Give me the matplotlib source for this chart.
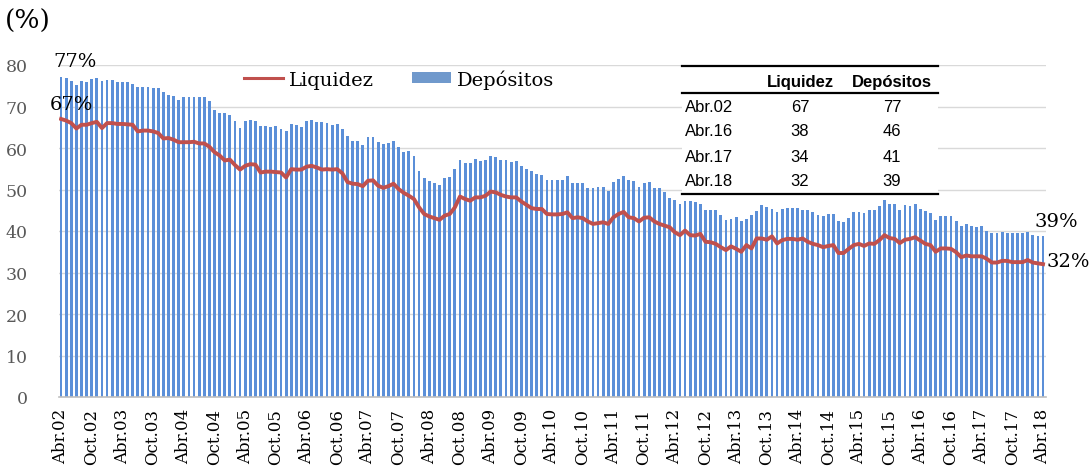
import matplotlib
matplotlib.use("Agg")
import matplotlib.pyplot as plt
from matplotlib.lines import Line2D
from matplotlib.patches import Patch, Rectangle

# monthly series, Abr.02 .. Abr.18
depositos = [
    77.1, 76.8, 76.2, 75.2, 76.1, 76.0, 76.6, 76.8, 76.2, 76.4, 76.3, 75.8, 75.8, 75.8, 75.4, 74.6,
    74.8, 74.8, 74.4, 74.4, 73.6, 72.8, 72.6, 71.6, 72.2, 72.2, 72.2, 72.2, 72.4, 71.4,
    69.2, 68.4, 68.4, 67.9, 66.6, 64.8, 66.4, 66.8, 66.6, 65.4, 65.2, 65.1, 65.2, 64.6, 64.1, 65.8,
    65.6, 65.1, 66.6, 66.7, 66.2, 66.2, 66.0, 65.6, 65.8,
    64.6, 63.0, 61.6, 61.7, 60.8, 62.6, 62.6, 61.4, 61.0, 61.1, 61.6, 60.2, 59.0, 59.2, 58.0, 54.5,
    52.7, 52.0, 51.5, 51.2, 52.7, 52.9, 54.9, 57.2, 56.5, 56.5, 57.3, 56.9, 57.0, 58.1, 57.9, 57.2,
    57.0, 56.7, 56.8, 55.6, 54.9, 54.4, 53.7, 53.6, 52.2, 52.4, 52.3, 52.4, 53.2, 51.5, 51.6, 51.6,
    50.3, 50.4, 50.5, 50.5, 49.7, 51.7, 52.5, 53.3, 52.3, 52.0, 50.7, 51.5, 51.7, 50.3, 50.3, 49.3,
    48.0, 47.4, 46.4, 47.2, 47.2, 46.9, 46.4,
    45.1, 45.1, 45.0, 43.9, 42.7, 42.9, 43.3, 42.3, 43.0, 43.9, 44.9, 46.3, 45.9, 45.3, 44.5, 45.3,
    45.6, 45.6, 45.6, 45.1, 45.1, 44.5, 43.9, 43.5, 44.0, 44.0, 42.4, 42.1, 43.2, 44.5, 44.5, 44.3,
    45.1, 45.0, 46.1, 47.5, 46.5, 46.5, 45.0, 46.3, 46.1, 46.5, 45.4, 44.7, 44.3, 42.7, 43.5, 43.5,
    43.5, 42.5, 41.1, 41.7, 41.3, 40.9, 41.1, 40.1, 39.5, 39.5, 39.8, 39.5, 39.5, 39.5, 39.5, 39.8,
    39.0, 38.7, 38.7,
]
liquidez = [
    67.0, 66.6, 66.0, 64.7, 65.6, 65.6, 66.0, 66.3, 64.8, 66.0, 66.0, 65.8, 65.8, 65.7, 65.6, 64.0,
    64.2, 64.2, 64.0, 63.6, 62.3, 62.4, 62.0, 61.4, 61.4, 61.4, 61.5, 61.1, 61.1, 60.3,
    59.0, 58.2, 57.0, 57.2, 55.9, 54.8, 55.7, 56.1, 56.0, 54.1, 54.3, 54.3, 54.2, 54.1, 52.9, 54.9,
    54.8, 54.8, 55.5, 55.7, 55.3, 54.8, 54.9, 54.8, 54.9,
    53.9, 51.8, 51.4, 51.3, 50.8, 52.1, 52.2, 50.9, 50.4, 50.8, 51.4, 50.1, 49.2, 48.5, 47.7, 45.7,
    44.1, 43.5, 43.1, 42.7, 43.7, 44.1, 45.7, 48.3, 47.7, 47.3, 48.1, 48.1, 48.5, 49.5, 49.3, 48.7,
    48.3, 48.1, 48.1, 47.1, 46.3, 45.5, 45.3, 45.3, 44.1, 44.0, 44.0, 44.1, 44.5, 43.1, 43.3, 43.1,
    42.3, 41.7, 41.9, 42.1, 41.7, 43.3, 44.1, 44.6, 43.3, 43.1, 42.3, 43.2, 43.3, 42.3, 41.7, 41.3,
    40.9, 39.7, 39.0, 40.1, 39.0, 38.9, 39.3,
    37.4, 37.3, 36.9, 36.1, 35.4, 36.3, 35.7, 35.0, 36.6, 35.8, 38.2, 38.2, 37.9, 38.7, 37.0, 37.8,
    38.1, 38.1, 37.9, 38.2, 37.4, 36.9, 36.6, 36.1, 36.4, 36.6, 34.7, 34.7, 35.7, 36.6, 36.9, 36.4,
    37.0, 36.9, 37.8, 39.0, 38.3, 38.1, 37.1, 37.9, 38.1, 38.5, 37.7, 36.9, 36.6, 35.0, 35.8, 35.8,
    35.7, 34.9, 33.7, 34.1, 33.9, 33.9, 33.9, 33.3, 32.4, 32.4, 32.8, 32.8, 32.5, 32.5, 32.5, 33.0,
    32.4, 32.2, 32.0,
]
tick_labels = [
    "Abr.02", "Oct.02", "Abr.03", "Oct.03", "Abr.04", "Oct.04", "Abr.05", "Oct.05", "Abr.06",
    "Oct.06", "Abr.07", "Oct.07", "Abr.08", "Oct.08", "Abr.09", "Oct.09", "Abr.10", "Oct.10",
    "Abr.11", "Oct.11", "Abr.12", "Oct.12", "Abr.13", "Oct.13", "Abr.14", "Oct.14", "Abr.15",
    "Oct.15", "Abr.16", "Oct.16", "Abr.17", "Oct.17", "Abr.18",
]
tabla_fechas = ["Abr.02", "Abr.16", "Abr.17", "Abr.18"]
tabla_liq = [67, 38, 34, 32]
tabla_dep = [77, 46, 41, 39]

BLUE = "#5B8FD8"
RED = "#C0504D"
SERIF = "DejaVu Serif"
W, H = 1092, 477

fig = plt.figure(figsize=(W / 100, H / 100), dpi=100)
ax = fig.add_axes([58.5 / W, 1 - 398 / H, 987.1 / W, 332 / H])

x = list(range(len(depositos)))
ax.bar(x, depositos, width=0.55, color=BLUE, zorder=2)
ax.plot(x, liquidez, color=RED, lw=2.8, zorder=3, solid_joinstyle="round")

ax.set_xlim(-0.5, len(depositos) - 0.5)
ax.set_ylim(0, 80)
ax.set_yticks(range(0, 81, 10))
ax.grid(axis="y", color="#D9D9D9", lw=1, zorder=0)
ax.set_axisbelow(True)
for s in ["top", "right", "left"]:
    ax.spines[s].set_visible(False)
ax.spines["bottom"].set_color("#BFBFBF")
ax.spines["bottom"].set_linewidth(1.2)

ax.set_xticks(range(0, len(depositos), 6))
ax.set_xticklabels(tick_labels, rotation=90, fontsize=12, family=SERIF)
ax.tick_params(axis="x", length=0, pad=8)
ax.tick_params(axis="y", length=0, pad=22, labelsize=12.5, labelcolor="#595959")
for lab in ax.get_yticklabels():
    lab.set_family(SERIF)

# end point labels
ax.annotate(f"{depositos[0]:.0f}%", (0, depositos[0]), xytext=(14, 16), textcoords="offset pixels",
            ha="center", va="center", fontsize=14, family=SERIF)
ax.annotate(f"{liquidez[0]:.0f}%", (0, liquidez[0]), xytext=(10, 15), textcoords="offset pixels",
            ha="center", va="center", fontsize=14, family=SERIF)
ax.annotate(f"{depositos[-1]:.0f}%", (x[-1], depositos[-1]), xytext=(13, 15), textcoords="offset pixels",
            ha="center", va="center", fontsize=14, family=SERIF)
ax.annotate(f"{liquidez[-1]:.0f}%", (x[-1], liquidez[-1]), xytext=(25, 3), textcoords="offset pixels",
            ha="center", va="center", fontsize=14, family=SERIF)

fig.text(5 / W, 1 - 21 / H, "(%)", fontsize=19, family=SERIF, va="center", ha="left")

handles = [Line2D([0], [0], color=RED, lw=2.2), Patch(facecolor="#7099CC")]
ax.legend(handles, ["Liquidez", "Depósitos"], ncol=2, frameon=False, loc="center",
          bbox_to_anchor=(0.345, 0.958), prop={"family": SERIF, "size": 14},
          handlelength=2.0, handleheight=0.5, handletextpad=0.3, columnspacing=2.0)


# table, figure pixel coords from top-left
def fp(px, py):
    return px / W, 1 - py / H


x0, y0 = fp(682, 67)
x1, y1 = fp(938, 195)
fig.patches.append(Rectangle((x0, y1), x1 - x0, y0 - y1, transform=fig.transFigure,
                             facecolor="white", edgecolor="none", zorder=5))
for yy in (67, 94, 195):
    fig.add_artist(Line2D([x0, x1], [fp(0, yy)[1]] * 2, transform=fig.transFigure,
                          color="black", lw=1.6, zorder=6))
tfont = {"family": "Liberation Sans", "size": 12}
fig.text(*fp(800, 82), "Liquidez", ha="center", va="center", weight="bold", zorder=7, **tfont)
fig.text(*fp(892, 82), "Depósitos", ha="center", va="center", weight="bold", zorder=7, **tfont)
for i, yy in enumerate([107, 132, 157, 182]):
    fig.text(*fp(685, yy), tabla_fechas[i], ha="left", va="center", zorder=7, **tfont)
    fig.text(*fp(800, yy), str(tabla_liq[i]), ha="center", va="center", zorder=7, **tfont)
    fig.text(*fp(892, yy), str(tabla_dep[i]), ha="center", va="center", zorder=7, **tfont)

fig.savefig("out.png", dpi=100)
